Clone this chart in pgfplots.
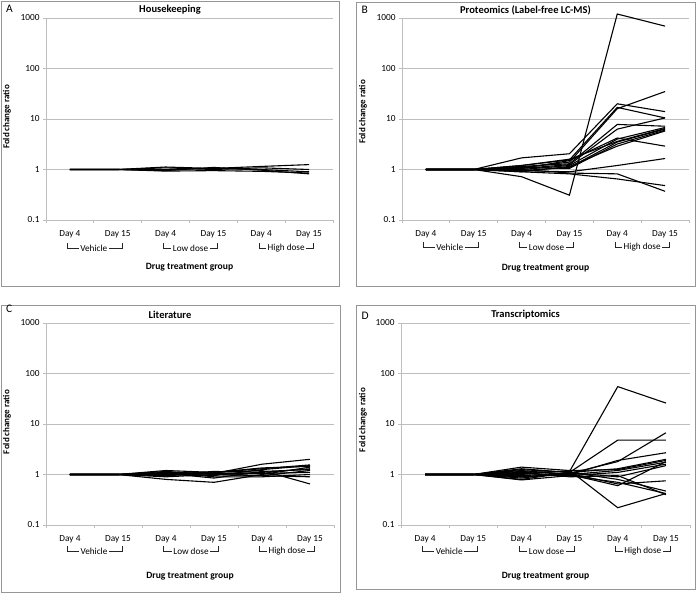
\documentclass[border=0pt]{standalone}
\usepackage{fontspec}
\setmainfont{Carlito}
\usepackage{pgfplots}
\pgfplotsset{compat=1.18}
\usepackage{pgfplotstable}
\definecolor{gridgray}{RGB}{190,190,190}
\definecolor{framegray}{RGB}{150,150,150}
\newcommand\fsz[1]{\fontsize{#1}{#1}\selectfont}

\pgfplotsset{
  /pgfplots/chartpanel/.style={
    scale only axis,
    height=202pt,
    ymin=0.1, ymax=1000,
    xmin=-0.5, xmax=5.5,
    axis x line*=bottom, axis y line*=left,
    axis line style={-, draw=gridgray, line width=0.8pt},
    ytick={0.1,1,10,100,1000},
    yticklabels={0.1,1,10,100,1000},
    yminorticks=false,
    ymajorgrids, major grid style={gridgray, line width=0.8pt},
    xtick={-0.5,0.5,1.5,2.5,3.5,4.5,5.5}, xticklabels={},
    extra x ticks={0,1,2,3,4,5},
    extra x tick labels={Day 4,Day 15,Day 4,Day 15,Day 4,Day 15},
    extra x tick style={grid=none, major tick length=0pt, xticklabel style={yshift=-7pt}},
    tick align=outside, major tick length=3pt,
    tick style={gridgray, line width=0.8pt},
    ticklabel style={font=\fsz{9.3}, text=black},
    clip=false,
  },
  /pgfplots/dl/.style={black, line width=1.1pt, no markers},
}

% rows: timepoints (0..5), columns: individual proteins/genes
\pgfplotstableread{
x s1 s2 s3 s4 s5
0 1 1 1 1 1
1 1 1 1 1 1
2 1.12 1.08 0.93 1.0 0.95
3 1.05 1.0 0.95 1.05 1.1
4 1.15 1.08 0.92 1.0 0.97
5 1.25 1.0 0.85 0.9 0.82
}\tabA

\pgfplotstableread{
x s1 s2 s3 s4 s5 s6 s7 s8 s9 s10 s11 s12 s13 s14 s15
0 1 1 1 1 1 1 1 1 1 1 1 1 1 1 1
1 1 1 1 1 1 1 1 1 1 1 1 1 1 1 1
2 0.72 1.7 1.2 1.1 1.15 1.05 1.0 0.95 1.1 0.9 1.05 0.95 1.0 0.9 1.2
3 0.31 2.05 1.55 1.4 1.3 1.25 1.2 1.1 1.05 1.15 1.5 0.9 0.85 0.82 1.6
4 1200 20 17 16 7.8 6.3 4.0 3.5 3.2 2.9 4.2 1.2 0.82 0.65 3.6
5 690 14 10.5 35 7.2 10.5 6.8 6.3 6.0 5.8 2.9 1.65 0.37 0.48 6.5
}\tabB

\pgfplotstableread{
x s1 s2 s3 s4 s5 s6 s7 s8 s9 s10 s11 s12
0 1 1 1 1 1 1 1 1 1 1 1 1
1 1 1 1 1 1 1 1 1 1 1 1 1
2 1.1 1.2 1.05 0.8 1.0 1.15 0.95 1.1 1.0 0.9 1.05 0.95
3 1.05 1.1 0.95 0.7 1.15 1.0 1.05 0.9 1.1 1.0 0.85 1.1
4 1.6 1.3 1.25 1.0 1.1 0.95 1.05 0.9 1.2 0.95 1.15 1.35
5 2.0 1.55 1.5 1.4 1.3 1.2 1.1 1.0 0.65 0.9 1.25 1.45
}\tabC

\pgfplotstableread{
x s1 s2 s3 s4 s5 s6 s7 s8 s9 s10 s11 s12 s13 s14 s15
0 1 1 1 1 1 1 1 1 1 1 1 1 1 1 1
1 1 1 1 1 1 1 1 1 1 1 1 1 1 1 1
2 1.1 1.3 0.9 1.2 0.8 1.4 1.05 0.85 1.15 0.95 1.25 0.78 1.0 1.1 0.9
3 1.15 1.1 1.05 1.0 1.1 1.2 0.95 1.1 1.0 1.05 1.1 0.95 1.2 0.9 1.0
4 55 4.8 1.8 1.9 1.3 1.25 1.1 0.9 0.6 0.65 0.8 0.7 0.22 0.95 1.2
5 26 4.8 6.7 2.7 2.0 1.9 1.6 1.5 1.8 0.75 0.47 0.42 0.42 0.4 1.75
}\tabD

% bracket: left x, right x, text centre x, top y, text
\newcommand\brk[5]{%
  \node[font=\fsz{9.2}, inner sep=1.5pt] (bt) at (#3,{-(#4)-5.5}) {#5};
  \draw[line width=0.9pt, black!85] (#1,-#4) |- (bt.west);
  \draw[line width=0.9pt, black!85] (#2,-#4) |- (bt.east);
}

\begin{document}
\begin{tikzpicture}[x=1pt,y=1pt]
\path[use as bounding box] (0,0) rectangle (696,-593);

% frames
\draw[framegray, line width=0.8pt] (1,-1) rectangle (339,-286);
\draw[framegray, line width=0.8pt] (356,-2) rectangle (695,-286);
\draw[framegray, line width=0.8pt] (1,-305) rectangle (340,-592);
\draw[framegray, line width=0.8pt] (356,-305) rectangle (695,-589);

% ---------- A ----------
\begin{semilogyaxis}[chartpanel, width=287pt, at={(46pt,-220pt)}, anchor=south west]
\pgfplotsinvokeforeach{1,...,5}{\addplot[dl] table[x=x,y=s#1]{\tabA};}
\end{semilogyaxis}
\node[font=\fsz{11.5}, anchor=west] at (2.5,-9) {A};
\node[font=\bfseries\fsz{10.5}] at (170,-10) {Housekeeping};
\node[font=\bfseries\fsz{9}, rotate=90] at (7,-117) {Fold change ratio};
\brk{67.6}{122.3}{93.8}{243}{Vehicle}
\brk{163.3}{217.9}{190.5}{243}{Low dose}
\brk{259}{313.6}{286.2}{243}{High dose}
\node[font=\bfseries\fsz{9.6}] at (189.5,-267) {Drug treatment group};

% ---------- B ----------
\begin{semilogyaxis}[chartpanel, width=287pt, at={(402pt,-220pt)}, anchor=south west]
\pgfplotsinvokeforeach{1,...,15}{\addplot[dl] table[x=x,y=s#1]{\tabB};}
\end{semilogyaxis}
\node[font=\fsz{11.5}, anchor=west] at (358,-10) {B};
\node[font=\bfseries\fsz{10.5}] at (525.5,-10) {Proteomics (Label-free LC-MS)};
\node[font=\bfseries\fsz{9}, rotate=90] at (363,-112) {Fold change ratio};
\brk{423.6}{478.3}{449.8}{242}{Vehicle}
\brk{519.3}{573.9}{546.5}{242}{Low dose}
\brk{615}{669.6}{642.2}{242}{High dose}
\node[font=\bfseries\fsz{9.6}] at (545.5,-268) {Drug treatment group};

% ---------- C ----------
\begin{semilogyaxis}[chartpanel, width=288pt, at={(46pt,-525pt)}, anchor=south west]
\pgfplotsinvokeforeach{1,...,12}{\addplot[dl] table[x=x,y=s#1]{\tabC};}
\end{semilogyaxis}
\node[font=\fsz{11.5}, anchor=west] at (2.5,-309) {C};
\node[font=\bfseries\fsz{10.5}] at (170,-315) {Literature};
\node[font=\bfseries\fsz{9}, rotate=90] at (7,-422) {Fold change ratio};
\brk{67.7}{122.6}{94}{546}{Vehicle}
\brk{163.7}{218.6}{191}{546}{Low dose}
\brk{259.7}{314.6}{287}{546}{High dose}
\node[font=\bfseries\fsz{9.6}] at (190,-576) {Drug treatment group};

% ---------- D ----------
\begin{semilogyaxis}[chartpanel, width=289pt, at={(401pt,-525pt)}, anchor=south west]
\pgfplotsinvokeforeach{1,...,15}{\addplot[dl] table[x=x,y=s#1]{\tabD};}
\end{semilogyaxis}
\node[font=\fsz{11.5}, anchor=west] at (358,-316) {D};
\node[font=\bfseries\fsz{10.5}] at (525.5,-315) {Transcriptomics};
\node[font=\bfseries\fsz{9}, rotate=90] at (363,-420) {Fold change ratio};
\brk{422.8}{477.7}{449.2}{546}{Vehicle}
\brk{519.1}{574}{546.5}{546}{Low dose}
\brk{615.4}{670.3}{642.8}{546}{High dose}
\node[font=\bfseries\fsz{9.6}] at (545.5,-576) {Drug treatment group};
\end{tikzpicture}
\end{document}
